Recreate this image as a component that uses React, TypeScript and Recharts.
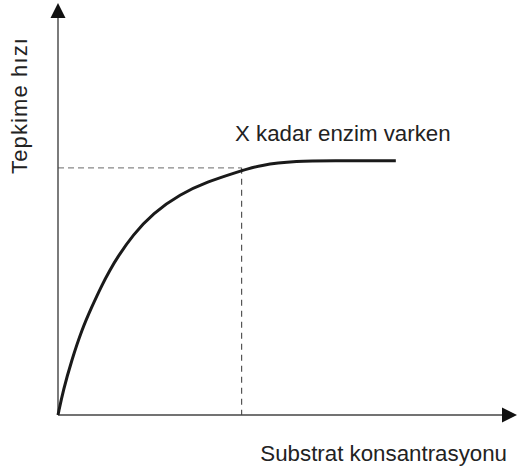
import { LineChart, Line, XAxis, YAxis, ReferenceLine, Customized } from 'recharts';

// substrate concentration (x) and reaction rate (y), 0..100 scale
const konsantrasyon = [0, 1.15, 3.0, 5.16, 7.34, 9.59, 11.33, 12.85, 16.3, 20.7, 26.6, 32.5, 39.2, 44.0, 52.1, 59.3, 73.6];
const hiz = [0, 6.07, 13.35, 20.6, 26.2, 31.6, 35.2, 38.1, 43.7, 49.0, 53.6, 56.6, 59.0, 60.7, 61.65, 61.7, 61.7];

const eksenMax = 100;
const kesisimX = 40;
const kesisimY = 60;

const yEtiketi = 'Tepkime hızı';
const xEtiketi = 'Substrat konsantrasyonu';
const egriEtiketi = 'X kadar enzim varken';

const data = konsantrasyon.map((x, i) => ({ x, y: hiz[i] }));

const FONT = '"Liberation Sans", Arial, sans-serif';

// line with a filled arrow head at its end point
const ArrowLine = (props: any) => {
    const { x1, y1, x2, y2 } = props;
    const ang = Math.atan2(y2 - y1, x2 - x1);
    const len = 15;
    const half = 7.5;
    const bx = x2 - len * Math.cos(ang);
    const by = y2 - len * Math.sin(ang);
    const px = -Math.sin(ang) * half;
    const py = Math.cos(ang) * half;
    return (
        <g>
            <line x1={x1} y1={y1} x2={bx} y2={by} stroke="#444" strokeWidth={1.4} />
            <polygon points={`${x2},${y2} ${bx + px},${by + py} ${bx - px},${by - py}`} fill="#111" />
        </g>
    );
};

const Texts = () => (
    <g fontFamily={FONT} fill="#222">
        <text
            x={27}
            y={106}
            fontSize={22}
            textAnchor="middle"
            textLength={136}
            lengthAdjust="spacing"
            transform="rotate(-90 27 106)"
        >
            {yEtiketi}
        </text>
        <text x={507} y={461} fontSize={22.3} textAnchor="end">
            {xEtiketi}
        </text>
        <text x={235} y={141} fontSize={22.3}>
            {egriEtiketi}
        </text>
    </g>
);

export default function App() {
    return (
        <div style={{ position: 'absolute', left: 0, top: 0, width: 517, height: 474, background: '#fff' }}>
            <LineChart width={517} height={474} data={data} margin={{ top: 3, right: 0, left: 58, bottom: 59 }}>
                <XAxis dataKey="x" type="number" domain={[0, eksenMax]} hide />
                <YAxis type="number" domain={[0, eksenMax]} hide />
                <ReferenceLine
                    segment={[{ x: 0, y: kesisimY }, { x: kesisimX, y: kesisimY }]}
                    stroke="#888"
                    strokeWidth={1.3}
                    strokeDasharray="6 4"
                />
                <ReferenceLine
                    segment={[{ x: kesisimX, y: kesisimY }, { x: kesisimX, y: 0 }]}
                    stroke="#555"
                    strokeWidth={1.2}
                    strokeDasharray="6 5"
                />
                <ReferenceLine segment={[{ x: 0, y: 0 }, { x: 0, y: eksenMax }]} shape={ArrowLine} />
                <ReferenceLine segment={[{ x: 0, y: 0 }, { x: eksenMax, y: 0 }]} shape={ArrowLine} />
                <Line
                    type="basis"
                    dataKey="y"
                    stroke="#1a1a1a"
                    strokeWidth={3}
                    dot={false}
                    activeDot={false}
                    isAnimationActive={false}
                />
                <Customized component={Texts} />
            </LineChart>
        </div>
    );
}
